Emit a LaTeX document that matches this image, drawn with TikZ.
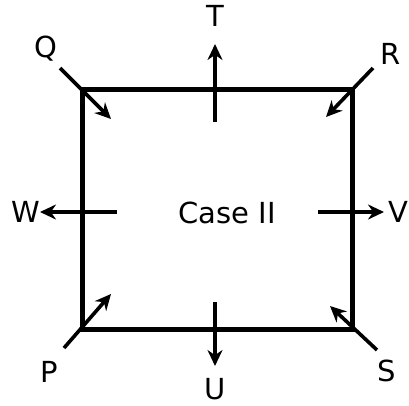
\documentclass[tikz,border=0pt]{standalone}
\usepackage{fontspec}
\setmainfont{DejaVu Sans}
\usetikzlibrary{arrows.meta}

\begin{document}
\begin{tikzpicture}[x=1pt,y=-1pt,>={Stealth[length=16pt,width=15pt]},
    lbl/.style={font=\fontsize{29}{34}\selectfont,inner sep=0pt},
    force/.style={->,line width=3.6pt}]
  \useasboundingbox (0,0) rectangle (409,405);
  % the loop
  \draw[line width=5pt] (82,89) rectangle (352,329);
  % labels
  \node[lbl] (Q) at (46,49) {Q};
  \node[lbl] (R) at (391,54) {R};
  \node[lbl] (P) at (49,372) {P};
  \node[lbl] (S) at (387,371) {S};
  \node[lbl] (T) at (215,16) {T};
  \node[lbl] (U) at (215,389) {U};
  \node[lbl] (W) at (26,212) {W};
  \node[lbl] (V) at (398,212) {V};
  \node[lbl] (case) at (227,213) {Case II};
  % ends of the forces
  \coordinate (q0) at (60,68);   \coordinate (q1) at (111,119);
  \coordinate (r0) at (373,68);  \coordinate (r1) at (326,117);
  \coordinate (p0) at (64,348);  \coordinate (p1) at (111,294);
  \coordinate (s0) at (377,350); \coordinate (s1) at (330,306);
  \coordinate (t0) at (215,122); \coordinate (t1) at (215,44);
  \coordinate (u0) at (215,302); \coordinate (u1) at (215,366);
  \coordinate (w0) at (117,212); \coordinate (w1) at (40,212);
  \coordinate (v0) at (318,212); \coordinate (v1) at (384,212);
  \draw[force] (q0) -- (q1);
  \draw[force] (r0) -- (r1);
  \draw[force] (p0) -- (p1);
  \draw[force] (s0) -- (s1);
  \draw[force] (t0) -- (t1);
  \draw[force] (u0) -- (u1);
  \draw[force] (w0) -- (w1);
  \draw[force] (v0) -- (v1);
\end{tikzpicture}
\end{document}
